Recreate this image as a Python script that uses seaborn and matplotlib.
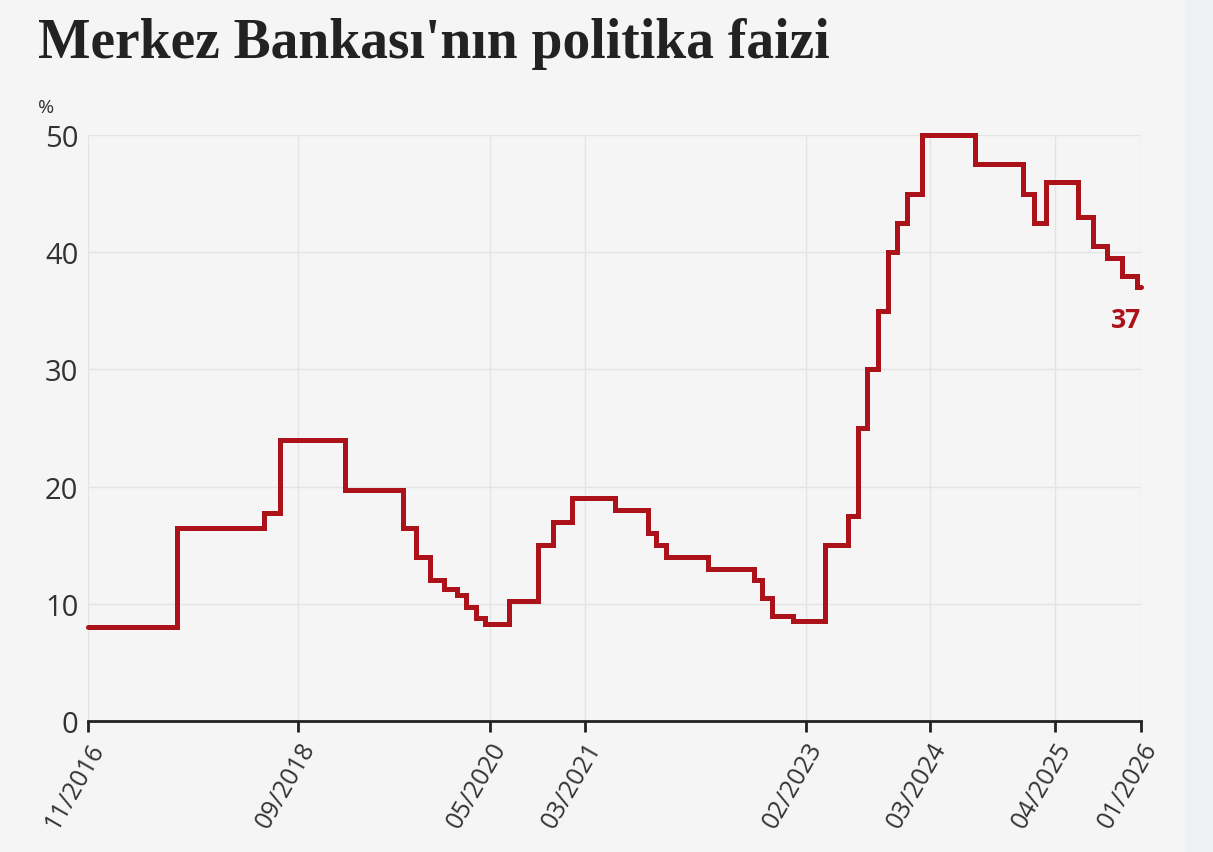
import pandas as pd
import matplotlib.pyplot as plt
import matplotlib.patches as mpatches
import seaborn as sns

# Politika faizi: karar tarihleri ve oranlar
change_dates = ["2016-11-01", "2017-08-10", "2018-05-15", "2018-07-04", "2019-01-28",
                "2019-07-29", "2019-09-10", "2019-10-24", "2019-12-07", "2020-01-18",
                "2020-02-16", "2020-03-18", "2020-04-16", "2020-07-01", "2020-10-01",
                "2020-11-18", "2021-01-18", "2021-06-03", "2021-09-18", "2021-10-13",
                "2021-11-12", "2022-03-27", "2022-08-18", "2022-09-15", "2022-10-16",
                "2022-12-21", "2023-04-03", "2023-06-15", "2023-07-15", "2023-08-15",
                "2023-09-18", "2023-10-18", "2023-11-18", "2023-12-18", "2024-02-06",
                "2024-07-21", "2024-12-21", "2025-01-26", "2025-03-06", "2025-06-16",
                "2025-08-01", "2025-09-15", "2025-11-01", "2025-12-18", "2026-01-01"]
rates = [8, 16.5, 17.75, 24, 19.75,
         16.5, 14, 12, 11.25, 10.75,
         9.75, 8.75, 8.25, 10.25, 15,
         17, 19, 18, 16, 15,
         14, 13, 12, 10.5, 9,
         8.5, 15, 17.5, 25, 30,
         35, 40, 42.5, 45, 50,
         47.5, 45, 42.5, 46, 43,
         40.5, 39.5, 38, 37, 37]

tick_dates = ["2016-11-01", "2018-09-01", "2020-05-01", "2021-03-01",
              "2023-02-01", "2024-03-01", "2025-04-01", "2026-01-01"]
tick_labels = ["11/2016", "09/2018", "05/2020", "03/2021",
               "02/2023", "03/2024", "04/2025", "01/2026"]
y_ticks = [0, 10, 20, 30, 40, 50]

title = "Merkez Bankası'nın politika faizi"
last_label = "37"

BG = "#f5f5f5"
RED = "#ab1219"
TXT = "#333333"

sns.set_theme(style="whitegrid")
plt.rcParams['font.family'] = ['Open Sans', 'DejaVu Sans']

df = pd.DataFrame({"date": pd.to_datetime(change_dates), "rate": rates})

fig = plt.figure(figsize=(12.13, 8.53), dpi=100, facecolor=BG)
fig.patches.append(mpatches.Rectangle((1185 / 1213, 0), 28 / 1213, 1,
                                      transform=fig.transFigure, color="#eef0f3",
                                      zorder=0))
ax = fig.add_axes([88 / 1213, 1 - 722 / 853, 1053 / 1213, 586 / 853])
ax.set_facecolor(BG)

sns.lineplot(data=df, x="date", y="rate", drawstyle="steps-post", color=RED,
             linewidth=3.6, clip_on=False, solid_joinstyle="miter", ax=ax, zorder=3)

ax.set_xlim(pd.Timestamp(tick_dates[0]), pd.Timestamp(tick_dates[-1]))
ax.set_ylim(0, 50)
ax.set_xticks(pd.to_datetime(tick_dates))
ax.set_xticklabels(tick_labels, rotation=60, ha="right", va="top",
                   rotation_mode="anchor", fontsize=18, color=TXT)
ax.set_yticks(y_ticks)
ax.set_yticklabels([str(v) for v in y_ticks], fontsize=21, color=TXT)
ax.set_xlabel("")
ax.set_ylabel("")

ax.grid(True, color="#e4e4e4", linewidth=1)
for side in ["left", "right", "top"]:
    ax.spines[side].set_visible(False)
ax.spines["bottom"].set_color("#222222")
ax.spines["bottom"].set_linewidth(2)
ax.tick_params(axis="x", length=8, width=2, color="#222222", pad=4, bottom=True)
ax.tick_params(axis="y", length=0, pad=7)

ax.text(pd.Timestamp(change_dates[-1]), rates[-1] - 1.6, last_label, color=RED,
        fontsize=19, fontweight="bold", ha="right", va="top")

fig.text(38 / 1213, 1 - 58 / 853, title, fontsize=40, fontweight="bold",
         family="Liberation Serif", color="#222222", va="baseline")
fig.text(38 / 1213, 1 - 108 / 853, "%", fontsize=14, color=TXT, va="center")

plt.savefig("out.png", dpi=100, facecolor=BG)
plt.close()
